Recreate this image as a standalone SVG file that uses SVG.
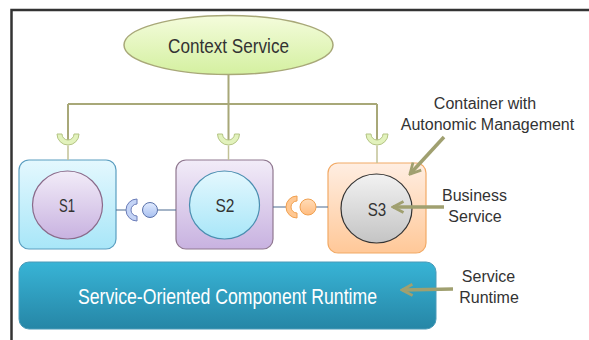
<svg xmlns="http://www.w3.org/2000/svg" width="589" height="340" viewBox="0 0 589 340">
<defs>
<linearGradient id="gEll" x1="0" y1="0" x2="0" y2="1"><stop offset="0" stop-color="#f4fcdc"/><stop offset="1" stop-color="#d4f0a0"/></linearGradient>
<linearGradient id="gCyan" x1="0" y1="0" x2="0" y2="1"><stop offset="0" stop-color="#e4f8fe"/><stop offset="1" stop-color="#a8e6f8"/></linearGradient>
<linearGradient id="gPurp" x1="0" y1="0" x2="0" y2="1"><stop offset="0" stop-color="#f2ecf8"/><stop offset="1" stop-color="#c8b2e0"/></linearGradient>
<linearGradient id="gPeach" x1="0" y1="0" x2="0" y2="1"><stop offset="0" stop-color="#ffeee2"/><stop offset="1" stop-color="#ffc898"/></linearGradient>
<linearGradient id="gGrey" x1="0" y1="0" x2="0" y2="1"><stop offset="0" stop-color="#f2f2f2"/><stop offset="1" stop-color="#c4c4c4"/></linearGradient>
<linearGradient id="gRun" x1="0" y1="0" x2="0" y2="1"><stop offset="0" stop-color="#38b4d6"/><stop offset="1" stop-color="#2686a6"/></linearGradient>
<linearGradient id="gBall" x1="0" y1="0" x2="0" y2="1"><stop offset="0" stop-color="#e2ecff"/><stop offset="1" stop-color="#a8c0f0"/></linearGradient>
<linearGradient id="gOBall" x1="0" y1="0" x2="0" y2="1"><stop offset="0" stop-color="#ffdcb8"/><stop offset="1" stop-color="#ffbc80"/></linearGradient>
<marker id="arr" viewBox="0 0 10 10" refX="8.5" refY="5" markerWidth="4" markerHeight="4" orient="auto" markerUnits="strokeWidth">
<path d="M1 1 L8.5 5 L1 9" fill="none" stroke="#a0a070" stroke-width="2"/>
</marker>
<style>
.cond{font-family:"Liberation Sans",Arial,sans-serif;fill:#333;text-anchor:middle}
.lbl{font-family:"Liberation Sans",Arial,sans-serif;font-size:16px;fill:#333;text-anchor:middle}
.wire{stroke:#a8a878;stroke-width:2;fill:none}
.drop{stroke:#c2c296;stroke-width:1.5;fill:none}
.cup{fill:#e2f2bc;stroke:#b4c484;stroke-width:1}
.link{stroke:#4a6a90;stroke-width:1.2;fill:none}
.note{stroke:#a0a070;stroke-width:3.5;fill:none;marker-end:url(#arr)}
</style>
</defs>

<path d="M11.5 340 V10 H589" fill="none" stroke="#333" stroke-width="2.5"/>

<g id="context">
<ellipse cx="228.5" cy="45" rx="104.5" ry="29.5" fill="url(#gEll)" stroke="#a8a878" stroke-width="1.5"/>
<text class="cond" x="228.5" y="53" font-size="21" textLength="121" lengthAdjust="spacingAndGlyphs">Context Service</text>
</g>

<g id="s1">
<rect x="19" y="160" width="97" height="89" rx="10" fill="url(#gCyan)" stroke="#5a9ec0" stroke-width="1.2"/>
<ellipse cx="67.5" cy="205" rx="35" ry="34" fill="url(#gPurp)" stroke="#8a6a8a" stroke-width="1.2"/>
<text class="cond" x="67" y="212" font-size="18" textLength="16" lengthAdjust="spacingAndGlyphs">S1</text>
</g>

<g id="s2">
<rect x="176" y="160" width="97" height="89" rx="10" fill="url(#gPurp)" stroke="#907890" stroke-width="1.2"/>
<ellipse cx="224.5" cy="205" rx="35" ry="34" fill="url(#gCyan)" stroke="#4a8eb0" stroke-width="1.2"/>
<text class="cond" x="225" y="212" font-size="18" textLength="19" lengthAdjust="spacingAndGlyphs">S2</text>
</g>

<g id="s3">
<rect x="328" y="163" width="98" height="90" rx="10" fill="url(#gPeach)" stroke="#f2aa66" stroke-width="1.2"/>
<ellipse cx="376.5" cy="208.5" rx="35.5" ry="34.5" fill="url(#gGrey)" stroke="#333" stroke-width="1.2"/>
<text class="cond" x="377" y="215.5" font-size="19" textLength="18.5" lengthAdjust="spacingAndGlyphs">S3</text>
</g>

<g id="runtime">
<rect x="19" y="262" width="417" height="67" rx="10" fill="url(#gRun)" stroke="#4a9ab8" stroke-width="1"/>
<text class="cond" x="227.5" y="304" font-size="22" style="fill:#fff" textLength="299" lengthAdjust="spacingAndGlyphs">Service-Oriented Component Runtime</text>
</g>

<g id="labels">
<text class="lbl" x="485" y="109">Container with</text>
<text class="lbl" x="487.5" y="130">Autonomic Management</text>
<text class="lbl" x="474.5" y="200.5">Business</text>
<text class="lbl" x="475" y="221.5">Service</text>
<text class="lbl" x="488.5" y="282">Service</text>
<text class="lbl" x="489" y="303">Runtime</text>
</g>

<g id="connectors">
<path class="wire" d="M228.5 74.5 V104 M68 104 H377 M68 104 V140 M228.5 104 V140 M377 104 V140"/>
<path class="drop" d="M68 145.5 V160 M228.5 145.5 V160 M377 145.5 V163"/>
<path class="cup" d="M57 134 A11 11 0 0 0 79 134 L74 134 A6 6 0 0 1 62 134 Z"/>
<path class="cup" d="M217.5 134 A11 11 0 0 0 239.5 134 L234.5 134 A6 6 0 0 1 222.5 134 Z"/>
<path class="cup" d="M366 134 A11 11 0 0 0 388 134 L383 134 A6 6 0 0 1 371 134 Z"/>
<path class="link" d="M116 210 H126 M157.5 210 H176"/>
<path d="M137 199 A11 11 0 0 0 137 221 L137 216 A6 6 0 0 1 137 204 Z" fill="#c4d4f6" stroke="#6a7cb8" stroke-width="1"/>
<circle cx="150" cy="210" r="7.5" fill="url(#gBall)" stroke="#5a72aa" stroke-width="1"/>
<path class="link" d="M273 207 H286 M316 207 H328"/>
<path d="M297 196 A11 11 0 0 0 297 218 L297 213 A6 6 0 0 1 297 201 Z" fill="#ffc892" stroke="#f0a050" stroke-width="1"/>
<circle cx="308" cy="207" r="8" fill="url(#gOBall)" stroke="#f0a050" stroke-width="1"/>
<path class="note" d="M444 137 L410 174"/>
<path class="note" d="M444 207 L393 207"/>
<path class="note" d="M453 289 L402 290"/>
</g>
</svg>
